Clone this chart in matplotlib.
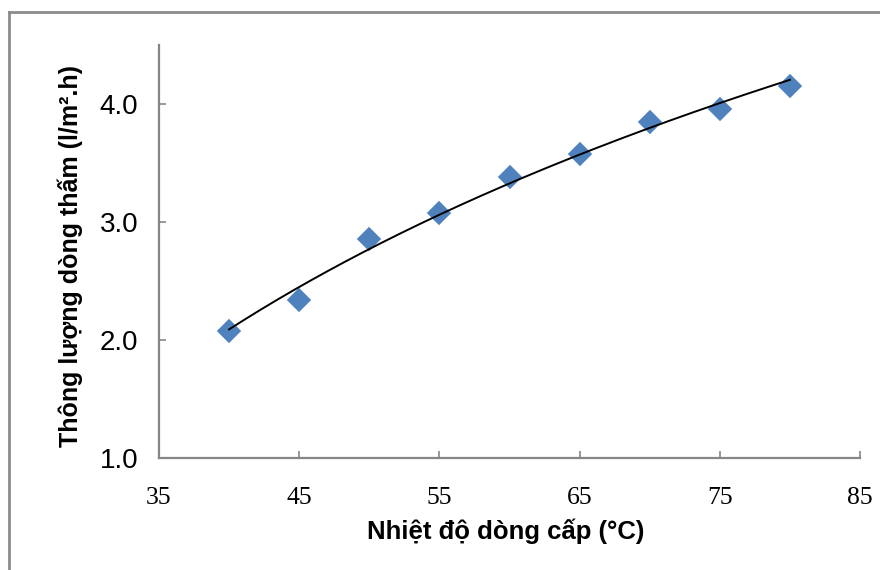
import numpy as np
import matplotlib.pyplot as plt
from matplotlib.lines import Line2D

# Feed temperature (°C) vs permeate flux (l/m2.h)
temperature = [40, 45, 50, 55, 60, 65, 70, 75, 80]
flux = [2.08, 2.34, 2.86, 3.08, 3.38, 3.58, 3.85, 3.96, 4.15]

x_ticks = [35, 45, 55, 65, 75, 85]
y_ticks = [1.0, 2.0, 3.0, 4.0]

axis_grey = '#868686'
marker_blue = '#4F81BD'

fig = plt.figure(figsize=(8.8, 5.7), dpi=100)
ax = fig.add_axes([159 / 880, 1 - 458 / 570, 701 / 880, 413 / 570])

# logarithmic trendline: flux = a*ln(T) + b
a, b = np.polyfit(np.log(temperature), flux, 1)
xs = np.linspace(min(temperature), max(temperature), 200)
ax.plot(xs, a * np.log(xs) + b, color='black', lw=1.4, zorder=3)

ax.plot(temperature, flux, linestyle='none', marker='D', markersize=11,
        color=marker_blue, markeredgecolor=marker_blue, markeredgewidth=1.2,
        zorder=2)

ax.set_xlim(35, 85)
ax.set_ylim(1.0, 4.5)
ax.set_xticks(x_ticks)
ax.set_yticks(y_ticks)
ax.set_yticklabels([f'{v:.1f}' for v in y_ticks], fontfamily='Liberation Sans',
                   fontsize=20)
ax.set_xticklabels([str(v) for v in x_ticks], fontfamily='Liberation Serif',
                   fontsize=18.5)

for side in ('top', 'right'):
    ax.spines[side].set_visible(False)
for side in ('left', 'bottom'):
    ax.spines[side].set_color(axis_grey)
    ax.spines[side].set_linewidth(1.6)

ax.tick_params(axis='both', direction='in', length=5, width=1.2,
               color=axis_grey, labelcolor='black')
ax.tick_params(axis='y', pad=15)
ax.tick_params(axis='x', pad=21)

ax.set_xlabel('Nhiệt độ dòng cấp (°C)', fontfamily='Liberation Sans',
              fontweight='bold', fontsize=18.5, va='center')
ax.xaxis.set_label_coords(0.494, -0.178)
ax.set_ylabel('Thông lượng dòng thấm (l/m².h)', fontfamily='Liberation Sans',
              fontweight='bold', fontsize=18, va='center')
ax.yaxis.set_label_coords(-0.127, 0.49)

# chart area frame (left and top edges fall inside the image)
fig.add_artist(Line2D([9, 9], [0, 570 - 12], transform=None, color='#8c8c8c', lw=2))
fig.add_artist(Line2D([9, 880], [570 - 12, 570 - 12], transform=None,
                      color='#8c8c8c', lw=2))

fig.savefig('out.png', dpi=100)
